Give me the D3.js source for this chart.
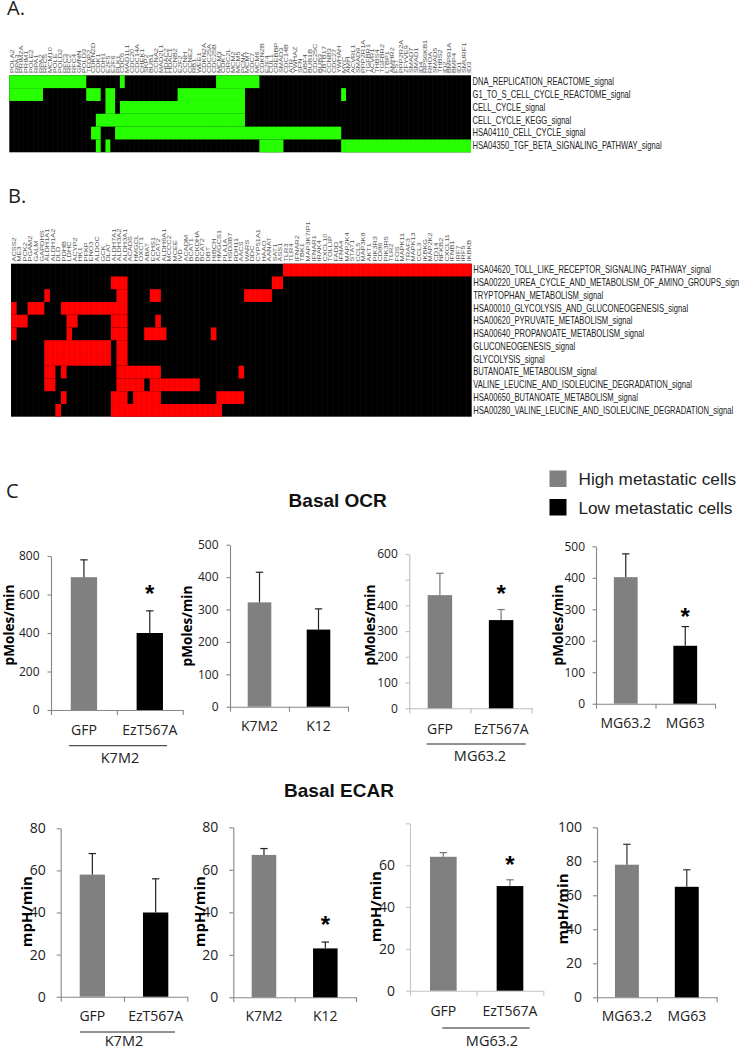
<!DOCTYPE html>
<html>
<head>
<meta charset="utf-8">
<script src="https://cdn.jsdelivr.net/npm/d3@7"></script>
<style>
  html, body { margin: 0; padding: 0; background: #fff; }
  svg { display: block; }
  text { fill: #1a1a1a; }
</style>
</head>
<body>
<div id="chart"></div>
<script>
// Heatmap A
var genesA = ["POLA2","RPA3","PRIM2A","PRIM1","POLE2","RPA1","RPA2","RFC5","MCM10","POLE","POLD2","RFC3","RFC2","RFC4","GMNN","POLD3",
  "TFDP2","CDKN2D","CDK1","CDH1","E2F5","E2F6","PLK1","CDC6","MAD1L1","CDC20","CDC14A","CHEK1","SKP2","BUB1","CCNA2","MAD2L1","HDAC2",
  "HDAC1","CCNB2","E2F2","CCNH","CCNE2","RB1","WEE1","CDKN2A","CDC25A","CDC25B","MCM3","CDK7","ORC2L","MCM2","MCM5","PCNA","MCM7","CDC7","MCM6",
  "CDKN2B","E2F4","CUL1","CREBBP","SMAD3","CDC14B","ATR","YWHAZ","SFN","DBF4","BUB1B","CDC25C","BUB3","ZBTB17","CCNB3","CDC27","YWHAH",
  "MYC","AMH","ACVRL1","SMAD9","PPP2R1A","TGFBR1","ACVR1","THBS4","TGFBR2","LTBP1","AMHR2","FST","PPP2R2A","ZFYVE9","SMAD7","SMAD1","ID4",
  "RPS6KB1","RHOA","SMAD5","THBS2","ID2","BMPR1A","BMP4","ID1","SMURF1","ID3"];
var pathwaysA = ["DNA_REPLICATION_REACTOME_signal","G1_TO_S_CELL_CYCLE_REACTOME_signal","CELL_CYCLE_signal","CELL_CYCLE_KEGG_signal",
  "HSA04110_CELL_CYCLE_signal","HSA04350_TGF_BETA_SIGNALING_PATHWAY_signal"];
// [first gene, last gene] runs that are switched on, one list per pathway
var rangesA = [
  [[0,15],[23,23],[43,51]],
  [[0,6],[16,18],[20,21],[35,48],[69,69]],
  [[20,21],[23,48]],
  [[18,48]],
  [[17,18],[22,68]],
  [[18,18],[20,20],[52,56],[69,95]]
];

// Heatmap B
var genesB = ["ACSS2","ME3","PCK2","PGAM2","GALM","GAPDHS","ALDH1A1","ALDH1A2","DLD","PDHB","LDHC","ACYP2","HK1","PFKP","ENO3","ALDOC","GCK","DLAT",
  "ALDH7A1","ALDH3A2","ALDH3A1","ACADS","HMGCL","OXCT1","ABAT","ECHS1","ACAT2","ALDH6A1","MCCC2","MCEE","IVD","ACADM","BCAT1","BCKDHA","BCAT2","DBT",
  "HIBCH","HMGCS1","PLA1A","HSD3B7","RDH11","AACS","WARS","DDC","CYP51A1","HAAO","AANAT","SAT1","ASS1","TLR3","TLR4","IFNAR2","TBK1","MAP3K7IP1",
  "IFNAR1","IRAK4","CXCL10","TOLLIP","FADD","IFNA4","MAP2K4","STAT1","CCL5","MAP3K8","AKT1","PIK3R3","CD86","PIK3R5","TLR2","FOS","MAPK11","TRAF3",
  "MAPK13","CCL3","IKBKG","MAP2K2","CD14","NFKB2","CXCL11","IFNB1","IRF7","IRF5","IKBKB"];
var pathwaysB = ["HSA04620_TOLL_LIKE_RECEPTOR_SIGNALING_PATHWAY_signal","HSA00220_UREA_CYCLE_AND_METABOLISM_OF_AMINO_GROUPS_signal",
  "TRYPTOPHAN_METABOLISM_signal","HSA00010_GLYCOLYSIS_AND_GLUCONEOGENESIS_signal","HSA00620_PYRUVATE_METABOLISM_signal",
  "HSA00640_PROPANOATE_METABOLISM_signal","GLUCONEOGENESIS_signal","GLYCOLYSIS_signal","BUTANOATE_METABOLISM_signal",
  "VALINE_LEUCINE_AND_ISOLEUCINE_DEGRADATION_signal","HSA00650_BUTANOATE_METABOLISM_signal","HSA00280_VALINE_LEUCINE_AND_ISOLEUCINE_DEGRADATION_signal"];
var rangesB = [
  [[49,82]],
  [[18,20],[47,48]],
  [[6,6],[19,20],[25,26],[42,46]],
  [[0,0],[3,5],[9,20]],
  [[0,2],[10,11],[18,20],[26,26]],
  [[0,0],[10,10],[18,20],[24,27],[36,36]],
  [[6,17],[19,20]],
  [[6,17],[19,20]],
  [[6,7],[9,9],[19,26],[41,41]],
  [[6,7],[19,23],[25,33]],
  [[9,9],[18,20],[22,26],[37,41]],
  [[8,8],[18,37]]
];

// Bar panels: Basal OCR then Basal ECAR
var barLabels = [["GFP","EzT567A"],["K7M2","K12"],["GFP","EzT567A"],["MG63.2","MG63"]];
var groupLabels = ["K7M2", null, "MG63.2", null];
var ocrValues = [[690,400],[322,238],[440,343],[402,184]];
var ocrTops = [[780,515],[415,302],[525,384],[476,245]];
var ocrMax = [800,500,600,500];
var ocrStep = [200,100,100,100];
var ocrStars = [[false,true],[false,false],[false,true],[false,true]];
var ecarValues = [[58,40],[67,23],[64,50],[78,65]];
var ecarTops = [[68,56],[70,26],[66,53],[90,75]];
var ecarMax = [80,80,80,100];
var ecarStep = [20,20,20,20];
var ecarStars = [[false,false],[false,true],[false,true],[false,false]];
var legendLabels = ["High metastatic cells","Low metastatic cells"];
var barColors = ["#808080","#000000"];

var svgWidth = 739;
var svgHeight = 1050;

var svg = d3.select("#chart")
  .append("svg")
  .attr("width", svgWidth)
  .attr("height", svgHeight);

var uiFont = "'Open Sans', sans-serif";
var arial = "'Liberation Sans', Arial, sans-serif";

function heatmap(box, genes, pathways, ranges, color, geneSquash) {
  var x = d3.scaleBand().domain(d3.range(genes.length)).range([box.left, box.right]);
  var y = d3.scaleBand().domain(pathways).range([box.top, box.bottom]);
  var g = svg.append("g");

  g.append("rect")
    .attr("x", box.left).attr("y", box.top)
    .attr("width", box.right - box.left).attr("height", box.bottom - box.top)
    .attr("fill", "#000");

  // one rect per run of switched on genes, so no seams inside the colour
  var runs = [];
  pathways.forEach(function (p, r) {
    ranges[r].forEach(function (run) { runs.push({ p: p, from: run[0], to: run[1] }); });
  });
  g.selectAll("rect.cell")
    .data(runs)
    .enter()
    .append("rect")
    .attr("class", "cell")
    .attr("x", d => x(d.from))
    .attr("y", d => y(d.p))
    .attr("width", d => x(d.to) + x.bandwidth() - x(d.from))
    .attr("height", y.bandwidth())
    .attr("fill", color);

  // faint column seams
  g.selectAll("line.seam")
    .data(d3.range(1, genes.length))
    .enter()
    .append("line")
    .attr("class", "seam")
    .attr("x1", d => x(d)).attr("x2", d => x(d))
    .attr("y1", box.top).attr("y2", box.bottom)
    .attr("stroke", "#fff")
    .attr("stroke-opacity", 0.06)
    .attr("stroke-width", 0.6);

  g.selectAll("text.gene")
    .data(genes)
    .enter()
    .append("text")
    .attr("class", "gene")
    .attr("transform", (d, i) => `translate(${x(i) + x.bandwidth() / 2 + 2}, ${box.top - 2.2}) rotate(-90) scale(1, ${geneSquash})`)
    .style("font-family", arial)
    .style("font-size", "7.4px")
    .style("fill", "#555")
    .text(d => d);

  // no narrow face installed, so squeeze the regular one
  g.selectAll("text.pathway")
    .data(pathways)
    .enter()
    .append("text")
    .attr("class", "pathway")
    .attr("transform", d => `translate(${box.right + 1.5}, ${y(d) + y.bandwidth() / 2 + 3.4}) scale(${box.squeeze}, 1)`)
    .style("font-family", arial)
    .style("font-size", "10px")
    .style("fill", "#222")
    .text(d => d);
}

function barPanel(box, labels, group, values, tops, maxVal, step, stars, yTitle) {
  var y = d3.scaleLinear().domain([0, maxVal]).range([box.y0, box.yTop]);
  var xBand = d3.scaleBand().domain(labels).range([box.x0, box.x1]).paddingInner(0.6).paddingOuter(0.3);
  var xEdge = d3.scaleLinear().domain([0, labels.length]).range([box.x0, box.x1]);
  var g = svg.append("g");

  var leftAxis = d3.axisLeft(y)
    .tickValues(d3.range(0, maxVal + 1, step))
    .tickSize(box.tick)
    .tickSizeOuter(0)
    .tickPadding(box.pad)
    .tickFormat(d => (box.hide === d ? "" : d));
  var yG = g.append("g").attr("transform", `translate(${box.x0}, 0)`).call(leftAxis);

  // ticks sit between the categories, labels under them
  var edgeAxis = d3.axisBottom(xEdge).tickValues(d3.range(labels.length + 1)).tickSize(5).tickSizeOuter(0).tickFormat("");
  var xG = g.append("g").attr("transform", `translate(0, ${box.y0})`).call(edgeAxis);
  var nameAxis = d3.axisBottom(xBand).tickSize(0).tickPadding(box.namePad);
  var nameG = g.append("g").attr("transform", `translate(0, ${box.y0})`).call(nameAxis);
  nameG.select(".domain").remove();

  [yG, xG].forEach(function (a) {
    a.selectAll("path, line").attr("stroke", box.axis).attr("stroke-width", 1.1);
  });
  yG.selectAll("text").style("font-family", uiFont).style("font-size", box.yFont + "px").style("fill", "#222");
  nameG.selectAll("text").style("font-family", uiFont).style("font-size", "14px").style("fill", "#222");

  g.selectAll("rect.bar")
    .data(values)
    .enter()
    .append("rect")
    .attr("class", "bar")
    .attr("x", (d, i) => xBand(labels[i]))
    .attr("y", d => y(d))
    .attr("width", xBand.bandwidth())
    .attr("height", d => box.y0 - y(d))
    .attr("fill", (d, i) => barColors[i]);

  // error whiskers, top half only
  var mid = i => xBand(labels[i]) + xBand.bandwidth() / 2;
  g.selectAll("line.whisker")
    .data(values)
    .enter()
    .append("line")
    .attr("class", "whisker")
    .attr("x1", (d, i) => mid(i)).attr("x2", (d, i) => mid(i))
    .attr("y1", d => y(d)).attr("y2", (d, i) => y(tops[i]))
    .attr("stroke", box.whisker)
    .attr("stroke-width", 1.2);
  g.selectAll("line.cap")
    .data(tops)
    .enter()
    .append("line")
    .attr("class", "cap")
    .attr("x1", (d, i) => mid(i) - 3.7).attr("x2", (d, i) => mid(i) + 3.7)
    .attr("y1", d => y(d)).attr("y2", d => y(d))
    .attr("stroke", box.whisker)
    .attr("stroke-width", 1.2);

  g.selectAll("text.star")
    .data(tops.map((d, i) => ({ top: d, i: i, on: stars[i] })).filter(d => d.on))
    .enter()
    .append("text")
    .attr("class", "star")
    .attr("x", d => mid(d.i))
    .attr("y", d => y(d.top) - box.starGap)
    .attr("text-anchor", "middle")
    .style("font-family", arial)
    .style("font-weight", "bold")
    .style("font-size", "24px")
    .style("fill", "#000")
    .text("*");

  g.append("text")
    .attr("transform", `translate(${box.titleX}, ${box.titleY}) rotate(-90)`)
    .attr("text-anchor", "middle")
    .style("font-family", uiFont)
    .style("font-weight", 700)
    .style("font-size", yTitle === "pMoles/min" ? "13.6px" : "15px")
    .style("fill", "#000")
    .text(yTitle);

  if (group) {
    g.append("line")
      .attr("x1", box.ruleX0).attr("x2", box.ruleX1)
      .attr("y1", box.ruleY).attr("y2", box.ruleY)
      .attr("stroke", "#222")
      .attr("stroke-width", 1);
    g.append("text")
      .attr("x", box.groupX)
      .attr("y", box.ruleY + box.groupGap)
      .attr("text-anchor", "middle")
      .style("font-family", uiFont)
      .style("font-size", "14.5px")
      .style("fill", "#222")
      .text(group);
  }
}

heatmap({ left: 9.3, right: 471, top: 75.3, bottom: 152.3, squeeze: 0.76 }, genesA, pathwaysA, rangesA, "#26ff00", 0.72);
heatmap({ left: 11, right: 471.7, top: 263.7, bottom: 416.7, squeeze: 0.765 }, genesB, pathwaysB, rangesB, "#ff0000", 0.8);

var ocrBoxes = [
  { x0: 51, x1: 182.7, y0: 710, yTop: 556, tick: 3.5, pad: 8, yFont: 12, namePad: 15, axis: "#868686", whisker: "#222", starGap: 9, titleX: 14, titleY: 625, ruleX0: 69, ruleX1: 167, ruleY: 745.7, groupX: 120, groupGap: 17 },
  { x0: 230, x1: 348, y0: 706.7, yTop: 544.7, tick: 3.5, pad: 8, yFont: 12, namePad: 14, axis: "#868686", whisker: "#222", starGap: 9, titleX: 191.5, titleY: 626 },
  { x0: 409.3, x1: 531.7, y0: 708.3, yTop: 554, tick: 3.5, pad: 8, yFont: 12, namePad: 16, hide: 500, axis: "#bdbdbd", whisker: "#777", starGap: 8, titleX: 375, titleY: 625, ruleX0: 426.7, ruleX1: 525.7, ruleY: 744, groupX: 480, groupGap: 17 },
  { x0: 596, x1: 715, y0: 703.7, yTop: 546.3, tick: 3.5, pad: 7.5, yFont: 12, namePad: 14, axis: "#868686", whisker: "#222", starGap: 2, titleX: 562.5, titleY: 625 }
];
var ecarBoxes = [
  { x0: 60.7, x1: 187.3, y0: 996.7, yTop: 828.3, tick: 4, pad: 11, yFont: 14, namePad: 14, axis: "#868686", whisker: "#222", starGap: 9, titleX: 31.5, titleY: 911.7, ruleX0: 80, ruleX1: 175, ruleY: 1032, groupX: 124, groupGap: 14 },
  { x0: 233.3, x1: 356, y0: 997.3, yTop: 827.3, tick: 4, pad: 11, yFont: 14, namePad: 14, axis: "#868686", whisker: "#222", starGap: 9, titleX: 205, titleY: 911.7 },
  { x0: 410, x1: 543.3, y0: 990.7, yTop: 823.3, tick: 4, pad: 11, yFont: 14, namePad: 15, hide: 80, axis: "#c4c4c4", whisker: "#777", starGap: 7, titleX: 380.5, titleY: 906.7, ruleX0: 442.3, ruleX1: 529.7, ruleY: 1028, groupX: 492, groupGap: 18 },
  { x0: 597, x1: 716.7, y0: 997.3, yTop: 827.3, tick: 4, pad: 11, yFont: 14, namePad: 14, axis: "#868686", whisker: "#333", starGap: 9, titleX: 567.5, titleY: 909 }
];

barLabels.forEach(function (labels, i) {
  barPanel(ocrBoxes[i], labels, groupLabels[i], ocrValues[i], ocrTops[i], ocrMax[i], ocrStep[i], ocrStars[i], "pMoles/min");
  barPanel(ecarBoxes[i], labels, groupLabels[i], ecarValues[i], ecarTops[i], ecarMax[i], ecarStep[i], ecarStars[i], "mpH/min");
});

// Panel letters
[["A.", 7, 15], ["B.", 8, 203], ["C", 6, 498]].forEach(function (d) {
  svg.append("text")
    .attr("x", d[1]).attr("y", d[2])
    .style("font-family", uiFont)
    .style("font-size", "20px")
    .style("fill", "#222")
    .text(d[0]);
});

// Section titles
[["Basal OCR", 337.7, 507], ["Basal ECAR", 339, 797]].forEach(function (d) {
  svg.append("text")
    .attr("x", d[1]).attr("y", d[2])
    .attr("text-anchor", "middle")
    .style("font-family", arial)
    .style("font-weight", "bold")
    .style("font-size", "19px")
    .style("fill", "#111")
    .text(d[0]);
});

// Legend
var legendY = d3.scalePoint().domain(legendLabels).range([479, 507.5]);
var legend = svg.append("g");
legend.selectAll("rect")
  .data(legendLabels)
  .enter()
  .append("rect")
  .attr("x", 549.5)
  .attr("y", d => legendY(d) - 8.5)
  .attr("width", 17)
  .attr("height", 16.5)
  .attr("fill", (d, i) => barColors[i]);
legend.selectAll("text")
  .data(legendLabels)
  .enter()
  .append("text")
  .attr("x", 578.5)
  .attr("y", d => legendY(d) + 6)
  .style("font-family", arial)
  .style("font-size", "17.2px")
  .style("fill", "#222")
  .text(d => d);
</script>
</body>
</html>
